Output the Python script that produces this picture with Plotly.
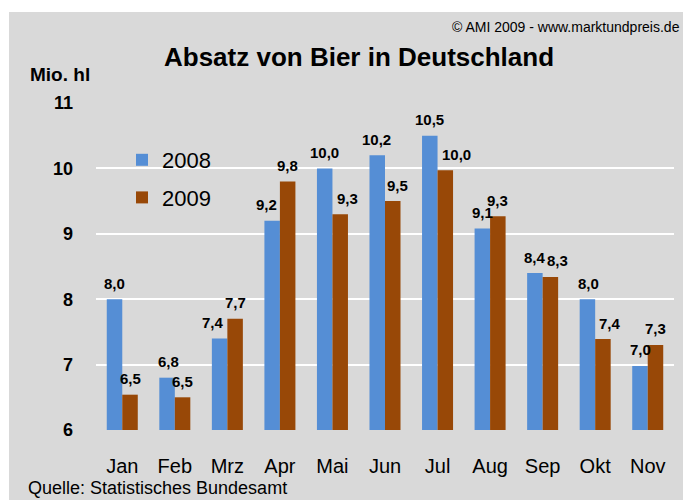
import plotly.graph_objects as go

months = ["Jan", "Feb", "Mrz", "Apr", "Mai", "Jun", "Jul", "Aug", "Sep", "Okt", "Nov"]
v2008 = [8.0, 6.8, 7.4, 9.2, 10.0, 10.2, 10.5, 9.08, 8.4, 8.0, 6.98]
v2009 = [6.54, 6.5, 7.7, 9.8, 9.3, 9.5, 9.97, 9.27, 8.34, 7.39, 7.3]
y_ticks = [6, 7, 8, 9, 10, 11]

# label nudges (px) relative to bar centre
nudge2008 = [0, 1, -7, -6, 0, -1, 0, 0, 0, 1, 1]
nudge2009 = [0, 0, 0, 0, 7, 5, 11, 0, 7, 7, 0]

BLUE = "#558ed5"
BROWN = "#984807"
GRAY = "#d9d9d9"
FONT = "Liberation Sans"

W, H = 683, 500
ML, MR, MT, MB = 96, 9, 103, 70
plot_w = W - ML - MR
plot_h = H - MT - MB
bargap = 0.41
half = plot_w / len(months) * (1 - bargap) / 4  # offset of each bar centre from category centre

fig = go.Figure()
fig.add_trace(go.Bar(x=months, y=[v - 6 for v in v2008], base=6, name="2008",
                     marker=dict(color=BLUE, line=dict(width=0)), legendgroup="a"))
fig.add_trace(go.Bar(x=months, y=[v - 6 for v in v2009], base=6, name="2009",
                     marker=dict(color=BROWN, line=dict(width=0)), legendgroup="b"))

def fmt(v):
    return f"{v:.1f}".replace(".", ",")

for vals, sign, nud in ((v2008, -1, nudge2008), (v2009, 1, nudge2009)):
    for m, v, n in zip(months, vals, nud):
        fig.add_annotation(x=m, y=v, text=fmt(v), showarrow=False,
                           xshift=sign * half + n, yshift=16, yanchor="middle",
                           font=dict(family=FONT, size=15, color="black", weight="bold"))

px2x = lambda px: (px - ML) / plot_w
px2y = lambda py: (H - MB - py) / plot_h

# gray background panel
fig.add_shape(type="rect", xref="paper", yref="paper", x0=px2x(9), x1=px2x(W + 20),
              y0=px2y(H + 20), y1=px2y(12), fillcolor=GRAY, line=dict(width=0), layer="below")

fig.add_annotation(xref="paper", yref="paper", x=px2x(359), y=px2y(57), text="Absatz von Bier in Deutschland",
                   showarrow=False, xanchor="center", yanchor="middle",
                   font=dict(family=FONT, size=26, color="black", weight="bold"))
fig.add_annotation(xref="paper", yref="paper", x=px2x(28), y=px2y(74), text="Mio. hl",
                   showarrow=False, xanchor="left", yanchor="middle",
                   font=dict(family=FONT, size=19, color="black", weight="bold"))
fig.add_annotation(xref="paper", yref="paper", x=px2x(682), y=px2y(27), text="© AMI 2009 - www.marktundpreis.de",
                   showarrow=False, xanchor="right", yanchor="middle",
                   font=dict(family=FONT, size=14, color="black"))
fig.add_annotation(xref="paper", yref="paper", x=px2x(26), y=px2y(488), text="Quelle: Statistisches Bundesamt",
                   showarrow=False, xanchor="left", yanchor="middle",
                   font=dict(family=FONT, size=18, color="black"))

fig.update_layout(
    width=W, height=H,
    margin=dict(l=ML, r=MR, t=MT, b=MB),
    paper_bgcolor="white", plot_bgcolor=GRAY,
    barmode="group", bargap=bargap, bargroupgap=0,
    font=dict(family=FONT, color="black"),
    legend=dict(x=px2x(122), y=px2y(139), xanchor="left", yanchor="top",
                bgcolor="rgba(0,0,0,0)", font=dict(family=FONT, size=22),
                tracegroupgap=6),
    showlegend=True,
)
fig.update_xaxes(showgrid=False, showline=False, ticks="", ticklabelstandoff=22,
                 tickfont=dict(family=FONT, size=20, color="black"))
fig.update_yaxes(range=[6, 11], tickvals=y_ticks, ticktext=[str(t) for t in y_ticks],
                 showgrid=True, gridcolor="white", gridwidth=2, zeroline=False, showline=False,
                 ticks="", ticklabelstandoff=22,
                 tickfont=dict(family=FONT, size=18, color="black", weight="bold"))

fig.write_html("out.html", config={"displayModeBar": False},
               post_script="document.body.style.margin='0';")
